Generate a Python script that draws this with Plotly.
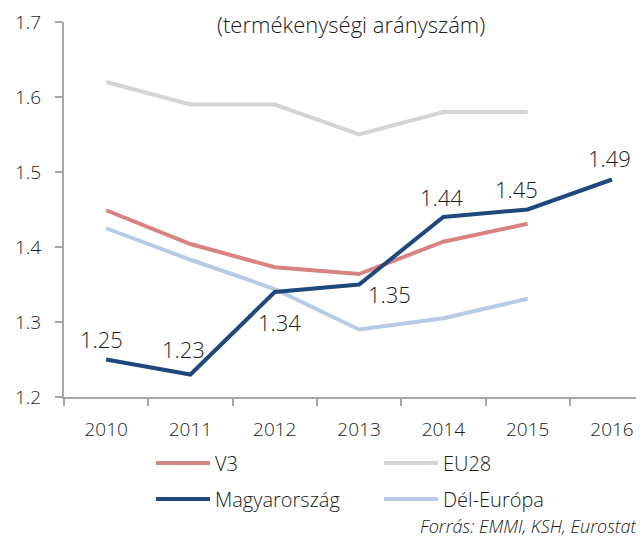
import plotly.graph_objects as go

years = ["2010", "2011", "2012", "2013", "2014", "2015", "2016"]
v3 = [1.449, 1.404, 1.373, 1.364, 1.407, 1.431, None]
eu28 = [1.62, 1.59, 1.59, 1.55, 1.58, 1.58, None]
hu = [1.25, 1.23, 1.34, 1.35, 1.44, 1.45, 1.49]
south = [1.425, 1.383, 1.344, 1.29, 1.305, 1.331, None]

hu_label_shift = [(-5, 21), (-7, 26), (5, -30), (30, -9), (-2, 20), (-11, 21), (-2, 22)]

FONT = "Open Sans"
W = 300
TXT = "#1a1a1a"

def f(size, color=TXT, weight=W):
    return dict(family=FONT, size=size, color=color, weight=weight)

fig = go.Figure()
fig.add_trace(go.Scatter(x=years, y=eu28, name="EU28", mode="lines",
                         line=dict(color="#D4D4D4", width=4), legend="legend2"))
fig.add_trace(go.Scatter(x=years, y=v3, name="V3", mode="lines",
                         line=dict(color="#D98282", width=4), legend="legend"))
fig.add_trace(go.Scatter(x=years, y=south, name="Dél-Európa", mode="lines",
                         line=dict(color="#B7CBE5", width=4), legend="legend4"))
fig.add_trace(go.Scatter(x=years, y=hu, name="Magyarország", mode="lines",
                         line=dict(color="#1F497D", width=4), legend="legend3"))

annotations = []
for i, (v, (dx, dy)) in enumerate(zip(hu, hu_label_shift)):
    annotations.append(dict(x=i, y=v, xref="x", yref="y", text=f"{v:.2f}",
                            showarrow=False, xshift=dx, yshift=dy, font=f(22)))

annotations.append(dict(x=0.5, xref="paper", y=1.0, yref="paper", yanchor="middle",
                        text="(termékenységi arányszám)", showarrow=False, xshift=-3, yshift=-2,
                        font=f(22)))
annotations.append(dict(x=1.0, xref="paper", y=0, yref="paper", xanchor="right", yanchor="middle",
                        text="<i>Forrás: EMMI, KSH, Eurostat</i>", showarrow=False,
                        xshift=-4, yshift=-129, font=f(18)))

def leg(x, y):
    return dict(orientation="h", x=x, xanchor="left", y=y, yanchor="middle",
                itemwidth=54, font=f(20), bgcolor="rgba(0,0,0,0)")

fig.update_layout(
    width=636, height=529,
    margin=dict(l=56, r=0, t=14, b=140),
    paper_bgcolor="white", plot_bgcolor="white",
    font=f(19),
    showlegend=True,
    annotations=annotations,
    legend=leg(0.15, -0.176),
    legend2=leg(0.5431, -0.176),
    legend3=leg(0.15, -0.272),
    legend4=leg(0.5431, -0.272),
    xaxis=dict(type="category", range=[-0.5, 6.38], showgrid=False, zeroline=False,
               showline=True, linecolor="#A6A6A6", linewidth=2,
               ticks="outside", tickson="boundaries", ticklen=7, tickwidth=2, tickcolor="#A6A6A6",
               ticklabelstandoff=14, tickfont=f(19)),
    yaxis=dict(range=[1.2, 1.7], dtick=0.1, tickformat=".1f", showgrid=False, zeroline=False,
               showline=True, linecolor="#A6A6A6", linewidth=2,
               ticks="outside", ticklen=7, tickwidth=2, tickcolor="#A6A6A6",
               ticklabelstandoff=10, tickfont=f(19)),
)

fig.write_html("out.html")
